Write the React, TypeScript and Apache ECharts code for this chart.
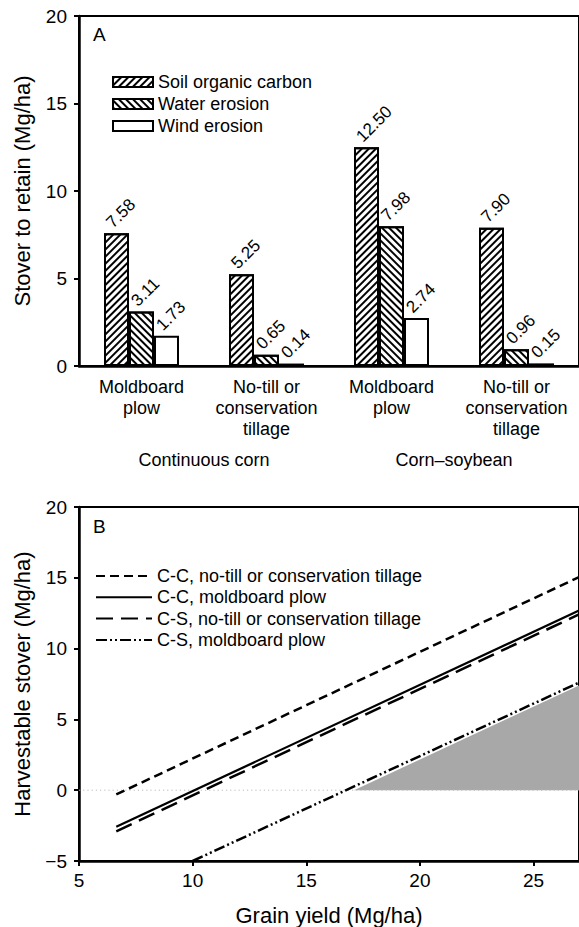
import React, { useEffect, useRef } from "react";
import * as echarts from "echarts";

// ---------- Panel A data ----------
const tillageCategories = [
  "Moldboard\nplow",
  "No-till or\nconservation\ntillage",
  "Moldboard\nplow",
  "No-till or\nconservation\ntillage",
];
const rotationGroups = ["Continuous corn", "Corn–soybean"];
const socValues = [7.58, 5.25, 12.5, 7.9];
const waterValues = [3.11, 0.65, 7.98, 0.96];
const windValues = [1.73, 0.14, 2.74, 0.15];
const barSeriesNames = ["Soil organic carbon", "Water erosion", "Wind erosion"];

// ---------- Panel B data: [grain yield, harvestable stover] ----------
const ccNoTill = [
  [6.64, -0.3],
  [27, 15.05],
];
const ccMoldboard = [
  [6.64, -2.58],
  [27, 12.69],
];
const csNoTill = [
  [6.64, -2.9],
  [27, 12.41],
];
const csMoldboard = [
  [10, -5],
  [27, 7.6],
];
const shadedRegion = [
  [17.1, 0],
  [27, 7.4],
];
const zeroLine = [
  [5, 0],
  [27, 0],
];
const lineSeriesNames = [
  "C-C, no-till or conservation tillage",
  "C-C, moldboard plow",
  "C-S, no-till or conservation tillage",
  "C-S, moldboard plow",
];

const FONT = "'Liberation Sans', Arial, Helvetica, sans-serif";

export default function App() {
  const ref = useRef<HTMLDivElement>(null);

  useEffect(() => {
    if (!ref.current) return;
    const chart = echarts.init(ref.current, null, { renderer: "svg" });

    const barLabel = {
      show: true,
      position: "top",
      distance: 5,
      rotate: 45,
      align: "left",
      verticalAlign: "middle",
      offset: [-3, -7.5],
      fontSize: 17,
      color: "#000",
      fontFamily: FONT,
      formatter: (p: any) => Number(p.value).toFixed(2),
    };

    const hatch = (rot: number) => ({
      symbol: "rect",
      symbolSize: 1,
      color: "#000",
      backgroundColor: "#fff",
      dashArrayX: [1, 0],
      dashArrayY: [2, 3],
      rotation: rot,
    });

    const barBase = {
      type: "bar",
      xAxisIndex: 0,
      yAxisIndex: 0,
      barWidth: 25,
      barGap: "0%",
      label: barLabel,
    };

    const tickFmt = (v: number) => (v < 0 ? "\u2212" + Math.abs(v) : String(v));

    const option: any = {
      animation: false,
      backgroundColor: "#fff",
      textStyle: { fontFamily: FONT, color: "#000" },
      title: [
        { text: "A", left: 88, top: 20, textStyle: { fontSize: 19, fontWeight: "normal", color: "#000", fontFamily: FONT } },
        { text: "B", left: 88, top: 512, textStyle: { fontSize: 19, fontWeight: "normal", color: "#000", fontFamily: FONT } },
      ],
      legend: [
        {
          data: barSeriesNames,
          orient: "vertical",
          left: 107,
          top: 68,
          itemWidth: 40,
          itemHeight: 10,
          itemGap: 4,
          icon: "rect",
          textStyle: { fontSize: 18, lineHeight: 18, color: "#000", fontFamily: FONT },
        },
        {
          data: lineSeriesNames,
          orient: "vertical",
          left: 90,
          top: 562,
          itemWidth: 56,
          itemHeight: 14,
          itemGap: 3.3,
          itemStyle: { opacity: 0 },
          textStyle: { fontSize: 18, lineHeight: 18, color: "#000", fontFamily: FONT },
        },
      ],
      grid: [
        { left: 79, top: 16, width: 506, height: 350, show: true, borderColor: "#000", borderWidth: 2 },
        { left: 79, top: 507, width: 506, height: 354, show: true, borderColor: "#000", borderWidth: 2 },
      ],
      xAxis: [
        {
          type: "category",
          gridIndex: 0,
          position: "bottom",
          data: tillageCategories,
          axisLine: { onZero: false, lineStyle: { color: "#000", width: 2.5 } },
          axisTick: { show: false },
          axisLabel: { interval: 0, fontSize: 18, lineHeight: 21, margin: 10, color: "#000", fontFamily: FONT },
        },
        {
          type: "category",
          gridIndex: 0,
          position: "bottom",
          data: rotationGroups,
          axisLine: { show: false, onZero: false },
          axisTick: { show: false },
          axisLabel: { interval: 0, fontSize: 18, margin: 85, color: "#000", fontFamily: FONT },
        },
        {
          type: "value",
          gridIndex: 1,
          min: 5,
          max: 27,
          interval: 5,
          name: "Grain yield (Mg/ha)",
          nameLocation: "middle",
          nameGap: 43,
          nameTextStyle: { fontSize: 22, color: "#000", fontFamily: FONT },
          axisLine: { onZero: false, lineStyle: { color: "#000", width: 2.5 } },
          axisTick: { show: true, length: 5, lineStyle: { width: 2 } },
          splitLine: { show: false },
          axisLabel: { fontSize: 19, margin: 10, color: "#000", fontFamily: FONT, showMaxLabel: false, formatter: tickFmt },
        },
      ],
      yAxis: [
        {
          type: "value",
          gridIndex: 0,
          min: 0,
          max: 20,
          interval: 5,
          name: "Stover to retain (Mg/ha)",
          nameLocation: "middle",
          nameGap: 46,
          nameTextStyle: { fontSize: 22, color: "#000", fontFamily: FONT },
          axisLine: { show: true, onZero: false, lineStyle: { color: "#000", width: 2.5 } },
          axisTick: { show: true, length: 5, lineStyle: { width: 2 } },
          splitLine: { show: false },
          axisLabel: { fontSize: 19, margin: 12, color: "#000", fontFamily: FONT },
        },
        {
          type: "value",
          gridIndex: 1,
          min: -5,
          max: 20,
          interval: 5,
          name: "Harvestable stover (Mg/ha)",
          nameLocation: "middle",
          nameGap: 46,
          nameTextStyle: { fontSize: 22, color: "#000", fontFamily: FONT },
          axisLine: { show: true, onZero: false, lineStyle: { color: "#000", width: 2.5 } },
          axisTick: { show: true, length: 5, lineStyle: { width: 2 } },
          splitLine: { show: false },
          axisLabel: { fontSize: 19, margin: 12, color: "#000", fontFamily: FONT, formatter: tickFmt },
        },
      ],
      series: [
        {
          ...barBase,
          name: barSeriesNames[0],
          data: socValues,
          itemStyle: { color: "#fff", borderColor: "#000", borderWidth: 2, decal: hatch(-Math.PI / 4) },
        },
        {
          ...barBase,
          name: barSeriesNames[1],
          data: waterValues,
          itemStyle: { color: "#fff", borderColor: "#000", borderWidth: 2, decal: hatch(Math.PI / 4) },
        },
        {
          ...barBase,
          name: barSeriesNames[2],
          data: windValues,
          itemStyle: { color: "#fff", borderColor: "#000", borderWidth: 2 },
        },
        {
          type: "line",
          name: "shaded",
          xAxisIndex: 2,
          yAxisIndex: 1,
          data: shadedRegion,
          symbol: "none",
          silent: true,
          lineStyle: { width: 0 },
          areaStyle: { color: "#a8a8a8", opacity: 1 },
        },
        {
          type: "line",
          name: "zero",
          xAxisIndex: 2,
          yAxisIndex: 1,
          data: zeroLine,
          symbol: "none",
          silent: true,
          lineStyle: { color: "#bbbbbb", width: 1, type: [1.2, 3] },
        },
        {
          type: "line",
          name: lineSeriesNames[0],
          xAxisIndex: 2,
          yAxisIndex: 1,
          data: ccNoTill,
          symbol: "none",
          lineStyle: { color: "#000", width: 2.5, type: [9, 5] },
        },
        {
          type: "line",
          name: lineSeriesNames[1],
          xAxisIndex: 2,
          yAxisIndex: 1,
          data: ccMoldboard,
          symbol: "none",
          lineStyle: { color: "#000", width: 2.2, type: "solid" },
        },
        {
          type: "line",
          name: lineSeriesNames[2],
          xAxisIndex: 2,
          yAxisIndex: 1,
          data: csNoTill,
          symbol: "none",
          lineStyle: { color: "#000", width: 2.5, type: [17, 8] },
        },
        {
          type: "line",
          name: lineSeriesNames[3],
          xAxisIndex: 2,
          yAxisIndex: 1,
          data: csMoldboard,
          symbol: "none",
          lineStyle: { color: "#000", width: 2.5, type: [11, 3, 2, 3, 2, 3] },
        },
      ],
    };

    chart.setOption(option);
    return () => chart.dispose();
  }, []);

  return (
    <div
      ref={ref}
      style={{ position: "absolute", left: 0, top: 0, width: 579, height: 927, background: "#fff" }}
    />
  );
}
